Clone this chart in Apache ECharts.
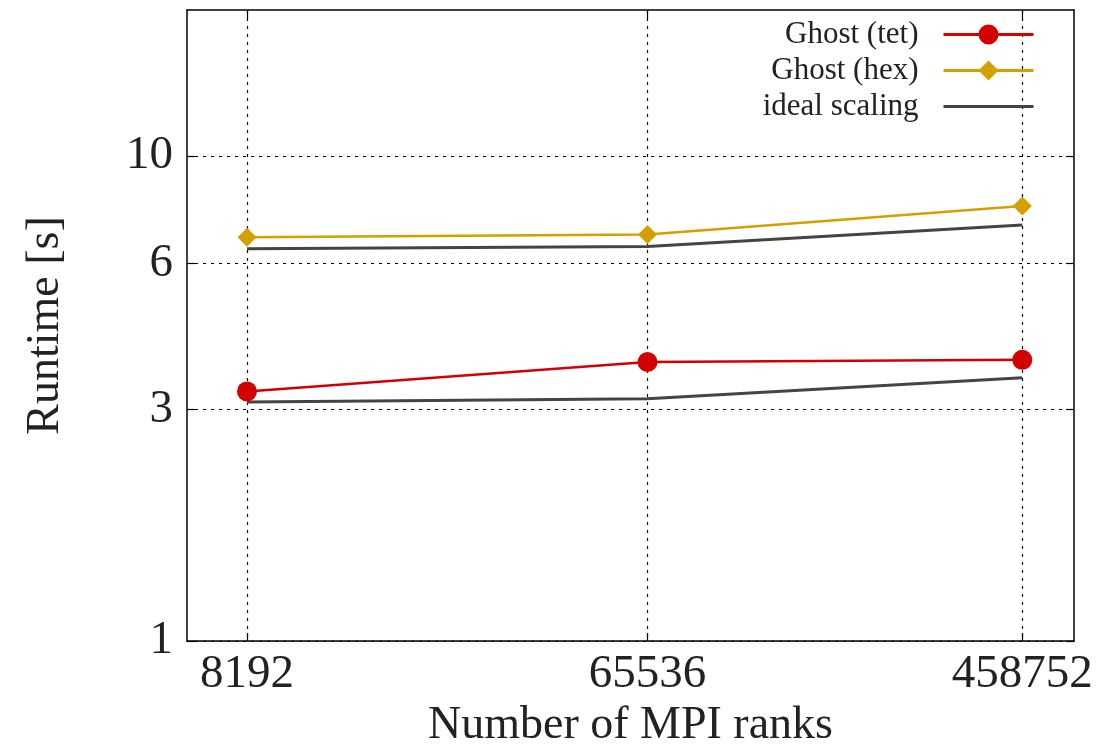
<!DOCTYPE html>
<html>
<head>
<meta charset="utf-8">
<script src="https://cdn.jsdelivr.net/npm/echarts@6/dist/echarts.min.js"></script>
<style>html,body{margin:0;padding:0;background:#fff}#c{width:1116px;height:745px}</style>
</head>
<body>
<div id="c"></div>
<script>
const ranks = [8192, 65536, 458752];
const tet = [3.27, 3.76, 3.80];
const hex = [6.80, 6.89, 7.89];
const idealHex = [6.44, 6.51, 7.21];
const idealTet = [3.11, 3.16, 3.49];
const yTicks = [1, 3, 6, 10];
const seriesNames = ['Ghost (tet)', 'Ghost (hex)', 'ideal scaling'];

const FONT = "'Liberation Serif', 'DejaVu Serif', serif";
const pairs = (ys) => ranks.map((x, i) => [x, ys[i]]);
const gridLine = { show: true, lineStyle: { color: '#000', type: [3, 5], width: 1.2 } };

const chart = echarts.init(document.getElementById('c'), null, { renderer: 'canvas' });
chart.setOption({
  animation: false,
  backgroundColor: '#fff',
  textStyle: { fontFamily: FONT },
  grid: { left: 187, right: 42, top: 10, bottom: 104, outerBoundsMode: 'none', containLabel: false },
  legend: {
    data: [
      { name: seriesNames[0] },
      { name: seriesNames[1] },
      { name: seriesNames[2], icon: 'path://M0,0H90V3H0Z', itemStyle: { color: '#444' } }
    ],
    right: 76, top: 14,
    orient: 'vertical',
    align: 'right',
    itemWidth: 90, itemHeight: 25, itemGap: 5,
    lineStyle: { width: 3 },
    textStyle: { fontFamily: FONT, fontSize: 31, color: '#222', padding: [0, 20, 0, 0] }
  },
  xAxis: [{
    type: 'log', logBase: 10, min: 6000, max: 600000,
    name: 'Number of MPI ranks', nameLocation: 'middle', nameGap: 61,
    nameTextStyle: { fontFamily: FONT, fontSize: 46, color: '#222' },
    axisLine: { show: true, lineStyle: { color: '#000', width: 1.5 } },
    axisTick: { show: true, inside: true, length: 8, customValues: ranks, lineStyle: { color: '#000', width: 1.2 } },
    axisLabel: { customValues: ranks, fontFamily: FONT, fontSize: 47, color: '#222', margin: 10,
      formatter: v => String(Math.round(v)) },
    splitLine: gridLine
  }, {
    type: 'log', logBase: 10, min: 6000, max: 600000, position: 'top',
    axisLine: { show: true, onZero: false, lineStyle: { color: '#000', width: 1.5 } },
    axisTick: { show: true, inside: true, length: 8, customValues: ranks, lineStyle: { color: '#000', width: 1.2 } },
    axisLabel: { show: false }, splitLine: { show: false }
  }],
  yAxis: [{
    type: 'log', logBase: 10, min: 1, max: 20,
    name: 'Runtime [s]', nameLocation: 'middle', nameGap: 118, nameRotate: 90,
    nameTextStyle: { fontFamily: FONT, fontSize: 46, color: '#222' },
    axisLine: { show: true, lineStyle: { color: '#000', width: 1.5 } },
    axisTick: { show: true, inside: true, length: 8, customValues: yTicks, lineStyle: { color: '#000', width: 1.2 } },
    axisLabel: { customValues: yTicks, fontFamily: FONT, fontSize: 47, color: '#222', margin: 14,
      formatter: v => String(Math.round(v)) },
    splitLine: gridLine
  }, {
    type: 'log', logBase: 10, min: 1, max: 20, position: 'right',
    axisLine: { show: true, onZero: false, lineStyle: { color: '#000', width: 1.5 } },
    axisTick: { show: true, inside: true, length: 8, customValues: yTicks, lineStyle: { color: '#000', width: 1.2 } },
    axisLabel: { show: false }, splitLine: { show: false }
  }],
  series: [
    { name: seriesNames[2], type: 'line', data: pairs(idealHex), symbol: 'none',
      lineStyle: { color: '#444', width: 3 }, itemStyle: { color: '#444' }, z: 2 },
    { name: seriesNames[2], type: 'line', data: pairs(idealTet), symbol: 'none',
      lineStyle: { color: '#444', width: 3 }, itemStyle: { color: '#444' }, z: 2 },
    { name: seriesNames[0], type: 'line', data: pairs(tet), symbol: 'circle', symbolSize: 20,
      lineStyle: { color: '#d40000', width: 2.5 }, itemStyle: { color: '#d40000' }, z: 3 },
    { name: seriesNames[1], type: 'line', data: pairs(hex), symbol: 'diamond', symbolSize: 19,
      lineStyle: { color: '#d4a000', width: 2.5 }, itemStyle: { color: '#d4a000' }, z: 3 }
  ]
});
</script>
</body>
</html>
